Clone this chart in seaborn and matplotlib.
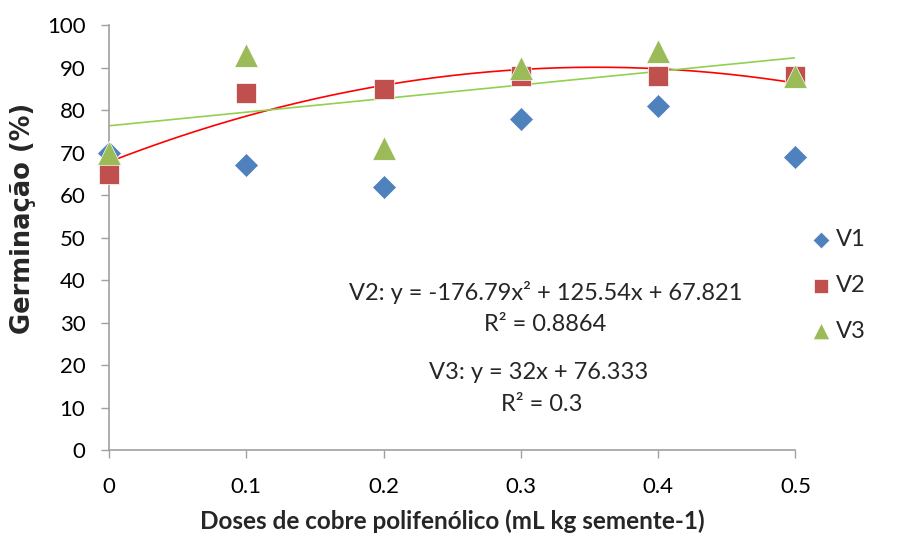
import numpy as np
import pandas as pd
import seaborn as sns
import matplotlib.pyplot as plt

# data
doses = [0, 0.1, 0.2, 0.3, 0.4, 0.5]
v1 = [70, 67, 62, 78, 81, 69]
v2 = [65, 84, 85, 88, 88, 88]
v3 = [70, 93, 71, 90, 94, 88]
series = ['V1', 'V2', 'V3']

colors = {'V1': '#4F81BD', 'V2': '#C0504D', 'V3': '#9BBB59'}
markers = {'V1': 'D', 'V2': 's', 'V3': '^'}
msize = {'V1': 150, 'V2': 215, 'V3': 290}

df = pd.DataFrame({
    'dose': doses * 3,
    'germ': v1 + v2 + v3,
    'serie': [s for s in series for _ in doses],
})

sns.set_style('white')
plt.rcParams['font.family'] = ['Lato', 'DejaVu Sans']

fig = plt.figure(figsize=(9.08, 5.36), dpi=100)
ax = fig.add_axes([0.120, 0.160, 0.756, 0.793])

# trend lines (drawn under the markers)
xs = np.linspace(0, 0.5, 200)
c2 = np.polyfit(doses, v2, 2)
c3 = np.polyfit(doses, v3, 1)
ax.plot(xs, np.polyval(c2, xs), color='#FF0000', lw=1.2, zorder=1)
ax.plot(xs, np.polyval(c3, xs), color='#92D050', lw=1.2, zorder=1)

for s in series:
    sns.scatterplot(data=df[df['serie'] == s], x='dose', y='germ',
                    color=colors[s], marker=markers[s], s=msize[s],
                    linewidth=0.5, edgecolor='white', label=s, ax=ax,
                    zorder=3, clip_on=False)

ax.set_xlim(0, 0.5)
ax.set_ylim(0, 100)
ax.set_xticks(doses)
ax.set_xticklabels(['0', '0.1', '0.2', '0.3', '0.4', '0.5'])
ax.set_yticks(range(0, 101, 10))
ax.tick_params(axis='both', labelsize=16, colors='#A0A0A0', labelcolor='black',
               length=6, width=1, direction='out', bottom=True, left=True)
ax.tick_params(axis='x', pad=13)
ax.tick_params(axis='y', pad=11)
for side in ['top', 'right']:
    ax.spines[side].set_visible(False)
for side in ['left', 'bottom']:
    ax.spines[side].set_color('#A0A0A0')
    ax.spines[side].set_linewidth(1.2)

ax.set_xlabel('Doses de cobre polifenólico (mL kg semente-1)', fontsize=17.5,
              fontweight='bold', labelpad=9)
ax.set_ylabel('Germinação (%)', fontsize=18.5, fontweight='bold',
              family='DejaVu Sans')
ax.yaxis.set_label_coords(-0.107, 0.545)

ax.text(0.318, 37.2, 'V2: y = -176.79x² + 125.54x + 67.821', fontsize=17,
        ha='center', va='center')
ax.text(0.318, 29.6, 'R² = 0.8864', fontsize=17, ha='center', va='center')
ax.text(0.313, 18.4, 'V3: y = 32x + 76.333', fontsize=17, ha='center', va='center')
ax.text(0.315, 10.8, 'R² = 0.3', fontsize=17, ha='center', va='center')

handles, labels = ax.get_legend_handles_labels()
ax.legend(handles, labels, loc='center left', bbox_to_anchor=(0.985, 0.388),
          frameon=False, fontsize=17, labelspacing=1.05, handletextpad=0.05,
          handlelength=1.2, markerscale=0.7)

fig.savefig('out.png', dpi=100)
